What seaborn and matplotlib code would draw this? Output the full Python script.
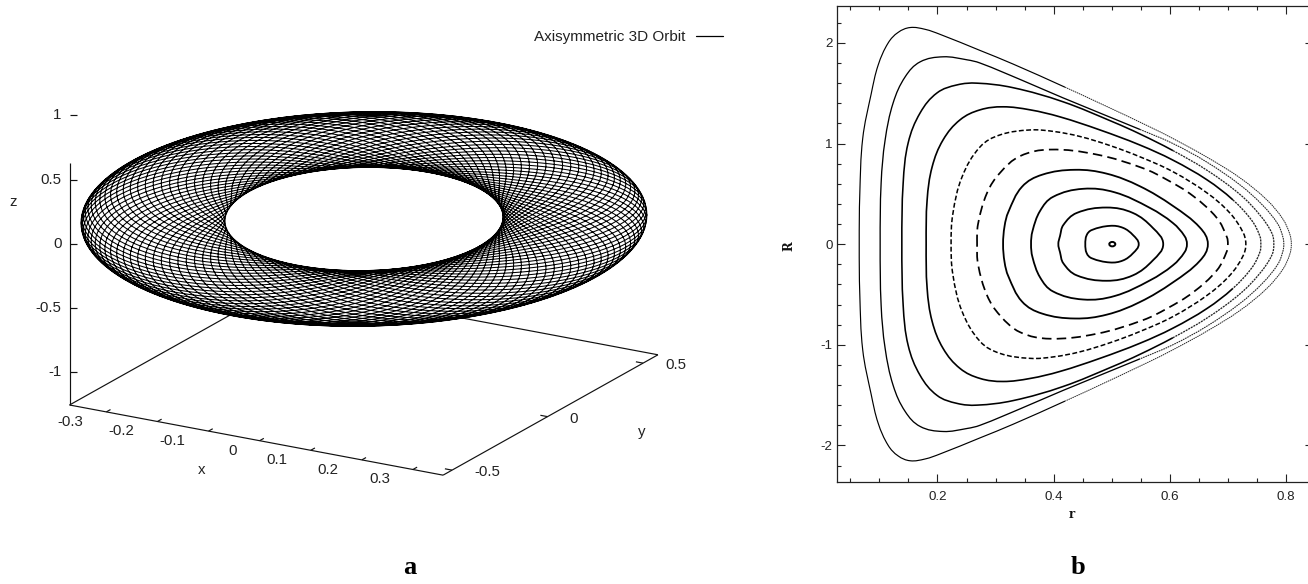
import numpy as np
import pandas as pd
import seaborn as sns
import matplotlib
matplotlib.use("Agg")
import matplotlib.pyplot as plt
from matplotlib.path import Path
from matplotlib.patches import PathPatch
from matplotlib.lines import Line2D
from matplotlib.ticker import MultipleLocator

# ---------- panel b: upper halves of the closed curves (r, R)
c1 = [(.0655,0),(.0665,.5),(.0715,1.05),(.0861,1.494),(.0981,1.78),(.1153,2.0),(.1325,2.105),(.1531,2.153),
      (.1789,2.135),(.2046,2.085),(.2734,1.925),(.3301,1.79),(.4194,1.56),(.4795,1.40),(.5655,1.165),(.605,1.05),
      (.6634,.865),(.7201,.66),(.7665,.44),(.794,.25),(.806,.10),(.8086,0)]
c2 = [(.1015,0),(.1032,.609),(.1101,1.037),(.1239,1.405),(.1445,1.663),(.1703,1.812),(.2098,1.862),(.2510,1.832),
      (.2734,1.80),(.345,1.63),(.416,1.454),(.5483,1.14),(.605,1.0),(.6634,.815),(.7201,.59),(.7596,.385),(.7854,.2),(.794,.073),(.7957,0)]
c3 = [(.1388,0),(.1411,.609),(.1497,1.007),(.1703,1.305),(.1995,1.504),(.2339,1.583),(.2682,1.600),(.3301,1.555),
      (.416,1.415),(.5019,1.215),(.5483,1.095),(.605,.93),(.6634,.735),(.7201,.495),(.7545,.29),(.7751,.11),(.7785,0)]
c4 = [(.1806,0),(.1823,.440),(.1909,.768),(.2098,1.037),(.239,1.236),(.2734,1.335),(.3129,1.365),(.3593,1.335),
      (.4108,1.265),(.4795,1.135),(.5483,.985),(.605,.835),(.6634,.640),(.7081,.440),(.7407,.235),(.7545,.08),(.7562,0)]
c5 = [(.2235,0),(.2265,.30),(.2424,.669),(.2734,.967),(.3077,1.086),(.3593,1.135),(.40,1.12),(.4452,1.07),(.4967,.98),
      (.5483,.868),(.605,.72),(.6634,.51),(.7029,.31),(.7253,.12),(.7304,0)]
c6 = [(.2682,0),(.2699,.202),(.2854,.510),(.3077,.709),(.3421,.875),(.3937,.94),(.4745,.89),(.5535,.755),
      (.5947,.64),(.6394,.48),(.6806,.26),(.6978,.07),(.6995,0)]
c7 = [(.3129,0),(.3155,.18),(.322,.32),(.3454,.57),(.38,.69),(.4366,.739),(.4916,.70),(.5483,.575),(.605,.38),(.6514,.165),(.6651,0)]
c8 = [(.361,0),(.3635,.13),(.3765,.33),(.3988,.47),(.4504,.55),(.505,.515),(.5655,.36),(.605,.21),(.625,.08),(.6291,0)]
c9 = [(.4079,0),(.4108,.08),(.4165,.19),(.4395,.31),(.491,.364),(.5362,.31),(.5707,.16),(.5883,0)]
c10 = [(.4543,0),(.4567,.09),(.4653,.14),(.4968,.182),(.5192,.162),(.5364,.09),(.5462,0)]
c11 = [(.4955,0),(.5007,.022),(.5059,0)]
curves = [c1, c2, c3, c4, c5, c6, c7, c8, c9, c10, c11]
curve_lw = [.85, .95, 1.15, 1.2, 1.1, 1.25, 1.3, 1.3, 1.3, 1.3, 1.4]
curve_dash = [None, None, None, None, (3.2, 1.6), (5.5, 3.0), None, None, None, None, None]
# right of this r the curve dissolves into fine dots in the reference
curve_dot_from = [.42, .50, .62, .70, 9, 9, 9, 9, 9, 9, 9]

x_ticks_b = [.2, .4, .6, .8]
y_ticks_b = [-2, -1, 0, 1, 2]

# ---------- panel a: axes ranges and ticks
x_ticks_a = [-.3, -.2, -.1, 0, .1, .2, .3]
y_ticks_a = [-.5, 0, .5]
z_ticks_a = [-1, -.5, 0, .5, 1]
x_range = (-.372, .359)
y_range = (-.547, .578)
z_range = (-1.256, .63)

# ---------- panel a: orbit. NOTE: this one series is NOT read point by point (dozens of overlapping
# turns cannot be read). It is a generated winding curve using these estimated parameters, so it
# reproduces the torus outline and mesh character, not the reference's exact strands.
orbit_rim_inner = .491
orbit_rim_outer = 1.0
orbit_turns = 45
orbit_winding = 2 + 1 / 45
orbit_height = .05


def project(x, y, z):
    return 364.1 + 511 * np.asarray(x) + 191 * np.asarray(y), 220.9 + 96 * np.asarray(x) - 107 * np.asarray(y) - 128.4 * np.asarray(z)


def orbit_screen(rho, phi, z):
    return 364 + 283 * rho * np.cos(phi), 219 + 106.5 * rho * np.sin(phi) - 4 * rho * np.cos(phi) - 128.4 * z


def bezier_segments(pts):
    """Closed smooth path through the read points (control points only, no new data points)."""
    scale = np.array([1, .173])
    p = np.asarray(pts, float) * scale
    n = len(p)
    segs = []
    for i in range(n):
        a, b, c, d = p[i - 1], p[i], p[(i + 1) % n], p[(i + 2) % n]
        d1 = np.linalg.norm(c - b)
        t1 = (c - a) / np.linalg.norm(c - a)
        t2 = (d - b) / np.linalg.norm(d - b)
        segs.append((b, b + t1 * d1 * .37, c - t2 * d1 * .37, c))
    return [[q / scale for q in s] for s in segs]


def closed(upper):
    lower = [(r, -R) for r, R in upper[-2:0:-1]]
    return list(upper) + lower


def add_segments(ax, segs, **kw):
    if not segs:
        return
    verts, codes = [], []
    last = None
    for s in segs:
        if last is None or not np.allclose(last, s[0]):
            verts.append(s[0]); codes.append(Path.MOVETO)
        verts += [s[1], s[2], s[3]]
        codes += [Path.CURVE4] * 3
        last = s[3]
    ax.add_patch(PathPatch(Path(np.array(verts), codes), fill=False, capstyle="butt", **kw))


sns.set_theme(style="white", rc={"axes.edgecolor": "#222222", "axes.linewidth": .9, "axes.unicode_minus": False})
plt.rcParams["font.family"] = ["Liberation Sans", "DejaVu Sans"]
fig = plt.figure(figsize=(13.08, 5.84), dpi=100)

# ---------------- panel a
ax = fig.add_axes([0, 0, 1, 1])
ax.set_xlim(0, 1308); ax.set_ylim(584, 0); ax.axis("off")
lk = dict(color="#111111", lw=.85, solid_capstyle="butt", zorder=1)
xa, xb = x_range; ya, yb = y_range; za, zb = z_range
box = [((xa, ya, za), (xb, ya, za)), ((xb, ya, za), (xb, yb, za)), ((xb, yb, za), (xa, yb, za)),
       ((xa, yb, za), (xa, ya, za)), ((xa, ya, za), (xa, ya, zb))]
for p, q in box:
    s, t = project(*p), project(*q)
    ax.plot([s[0], t[0]], [s[1], t[1]], **lk)
for v in x_ticks_a:
    s, t = project(v, ya, za), project(v, ya + .022, za)
    ax.plot([s[0], t[0]], [s[1], t[1]], **lk)
    ax.text(s[0] - 23, s[1] + 10, f"{v:g}", ha="right", va="center", fontsize=10.8, color="#222222")
for v in y_ticks_a:
    s, t = project(xb, v, za), project(xb - .014, v, za)
    ax.plot([s[0], t[0]], [s[1], t[1]], **lk)
    ax.text(s[0] + 22, s[1] + 2, f"{v:g}", ha="left", va="center", fontsize=10.8, color="#222222")
for v in z_ticks_a:
    s = project(xa, ya, v)
    ax.plot([s[0], s[0] + 7], [s[1], s[1]], **lk)
    ax.text(s[0] - 8, s[1], f"{v:g}", ha="right", va="center", fontsize=10.8, color="#222222")
ax.text(13, 202, "z", ha="center", va="center", fontsize=10.8, color="#222222")
ax.text(202, 470, "x", ha="center", va="center", fontsize=10.8, color="#222222")
ax.text(642, 432, "y", ha="center", va="center", fontsize=10.8, color="#222222")

phi_rim = np.linspace(0, 2 * np.pi, 240)
ex, ey = orbit_screen(orbit_rim_outer, phi_rim, 0)
ax.fill(ex, ey, color="white", zorder=2)

phi = np.linspace(0, 2 * np.pi * orbit_turns, orbit_turns * 180)
theta = orbit_winding * phi
rho_mid = (orbit_rim_inner + orbit_rim_outer) / 2
rho_amp = (orbit_rim_outer - orbit_rim_inner) / 2
rho = rho_mid + rho_amp * np.cos(theta)
sx, sy = orbit_screen(rho, phi, orbit_height * np.sin(theta))
orbit = pd.DataFrame({"sx": sx, "sy": sy})
sns.lineplot(data=orbit, x="sx", y="sy", sort=False, estimator=None, color="black", lw=.75, ax=ax, zorder=3, legend=False)
ax.set_xlim(0, 1308); ax.set_ylim(584, 0)
ax.legend(handles=[Line2D([], [], color="black", lw=.9)], labels=["Axisymmetric 3D Orbit"], markerfirst=False,
          frameon=False, fontsize=11, loc="center right", bbox_to_anchor=(723 / 1308, 1 - 37 / 584),
          handlelength=1.77, handletextpad=.72, borderpad=0, borderaxespad=0, labelcolor="#222222")
ax.text(410, 568, "a", ha="center", va="center", fontsize=19, fontweight="bold", family="Liberation Serif", color="black")
ax.text(1078, 568, "b", ha="center", va="center", fontsize=19, fontweight="bold", family="Liberation Serif", color="black")

# ---------------- panel b
right_px, left_px, top_px, bottom_px = 1313, 837.3, 6, 481.7
bx = fig.add_axes([left_px / 1308, 1 - bottom_px / 584, (right_px - left_px) / 1308, (bottom_px - top_px) / 584])
bx.set_xlim(.0278, .8459); bx.set_ylim(-2.361, 2.367)
bx.set_xticks(x_ticks_b); bx.set_yticks(y_ticks_b)
bx.xaxis.set_minor_locator(MultipleLocator(.05)); bx.yaxis.set_minor_locator(MultipleLocator(.2))
bx.tick_params(which="major", direction="in", length=6, width=.8, top=True, right=True, left=True, bottom=True,
               labelsize=9.6, colors="#222222")
bx.tick_params(which="minor", direction="in", length=3.2, width=.8, top=True, right=True, left=True, bottom=True, colors="#222222")
bx.tick_params(axis="x", which="major", pad=6.5)
bx.tick_params(axis="y", which="major", pad=3.5)
bx.patch.set_alpha(0)
fig.text(1072 / 1308, 1 - 514 / 584, "r", ha="center", va="center", fontsize=8.5, fontweight="bold", family="DejaVu Serif", color="#111111")
fig.text(789 / 1308, 1 - 246 / 584, "R", ha="center", va="center", rotation=90, fontsize=8.5, fontweight="bold", family="DejaVu Serif", color="#111111")

for pts, lw, dash, dot_from in zip(curves, curve_lw, curve_dash, curve_dot_from):
    segs = bezier_segments(closed(pts))
    solid = [s for s in segs if (s[0][0] + s[3][0]) / 2 < dot_from]
    dotted = [s for s in segs if (s[0][0] + s[3][0]) / 2 >= dot_from]
    add_segments(bx, solid, lw=lw, color="black", linestyle=(0, dash) if dash else "-")
    add_segments(bx, dotted, lw=lw * .8, color="#222222", linestyle=(0, (1.6, .7)))

fig.savefig("out.png", dpi=100)
